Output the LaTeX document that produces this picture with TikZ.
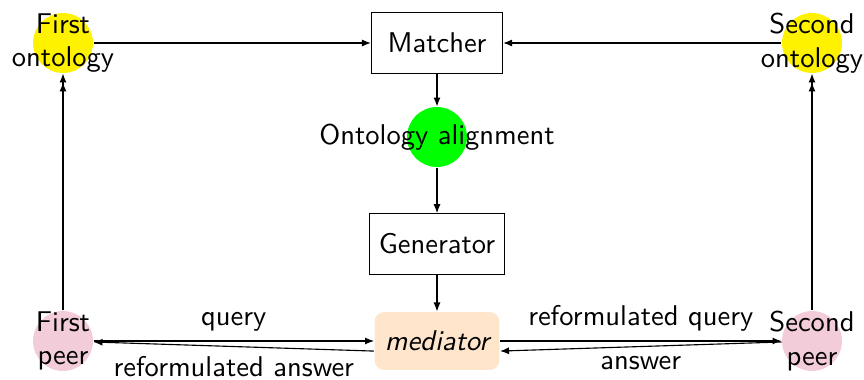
\documentclass[tikz,border=0pt]{standalone}
\usetikzlibrary{arrows.meta}
\begin{document}
\begin{tikzpicture}[x=0.357pt,y=-0.357pt,
  font=\fontsize{10.2}{12}\selectfont\sffamily,
  conn/.style={draw,line width=0.4pt,-{Latex[length=3.2pt,width=2.5pt]}},
  dconn/.style={draw,line width=0.4pt,-{Latex[length=3.2pt,width=2.5pt]Latex[length=3.2pt,width=2.5pt]}},
  blob/.style={circle,inner sep=0pt,minimum size=21.4pt},
  onto/.style={blob,fill=yellow},
  peer/.style={blob,fill=purple!20},
  box/.style={draw,line width=0.4pt,minimum width=46.8pt,minimum height=21.6pt},
  words/.style={align=center,inner sep=0pt}]
\useasboundingbox (0,0) rectangle (864,380);

% ontologies and peers
\node[onto] (o1) at (63,43) {};
\node[onto] (o2) at (812,43) {};
\node[peer] (p1) at (63,341) {};
\node[peer] (p2) at (812,341) {};
\node[words] at (o1) {First\\ontology};
\node[words] at (o2) {Second\\ontology};
\node[words] at (p1) {First\\peer};
\node[words] at (p2) {Second\\peer};

% matching pipeline
\node[box] (match) at (437,43) {Matcher};
\node[blob,fill=green] (align) at (437,137) {};
\node[words] at (align) {Ontology alignment};
\node[box] (gen) at (437,244) {Generator};
\node[fill=orange!20,rounded corners=3.5pt,minimum width=44.6pt,minimum height=20.7pt] (med) at (437,341) {\itshape mediator};

\path[conn] (o1) -- (match);
\path[conn] (o2) -- (match);
\path[conn] (match) -- (align);
\path[conn] (align) -- (gen);
\path[conn] (gen) -- (med);
\path[dconn] (p1) -- (o1);
\path[dconn] (p2) -- (o2);

% query exchange
\path[conn] (p1) -- node[above] {query} (med);
\path[conn] ([yshift=-3.6pt]med.west) -- node[below] {reformulated answer} (p1);
\path[conn] (med) -- node[above] {reformulated query} (p2);
\path[conn] (p2) -- node[below] {answer} ([yshift=-3.6pt]med.east);
\end{tikzpicture}
\end{document}
